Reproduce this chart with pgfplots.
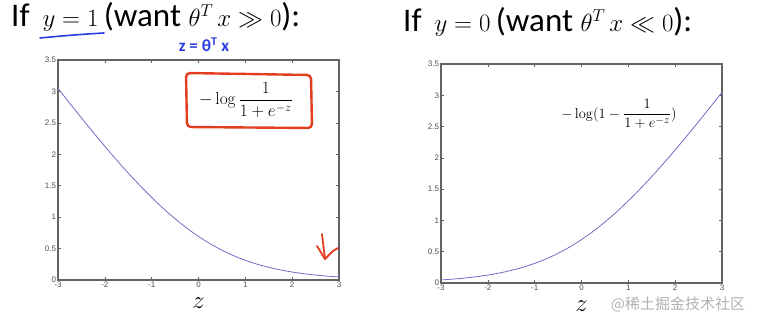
\documentclass[border=0pt]{standalone}
\usepackage{pgfplots}
\pgfplotsset{compat=1.18}
\usepackage{pgfplotstable}
\usepackage[no-math]{fontspec}
\setmainfont{Carlito}
\newfontfamily\tickfont{Liberation Sans}
\newfontfamily\cjk{Noto Sans CJK SC}
\definecolor{curve}{RGB}{110,110,200}
\definecolor{axgray}{RGB}{100,100,100}
\definecolor{tickgray}{RGB}{80,80,80}
\definecolor{hblue}{RGB}{40,60,225}
\definecolor{hred}{RGB}{228,60,30}
\pgfplotstableread{
z y
-3 3.0486
-2.75 2.8120
-2.5 2.5789
-2.25 2.3502
-2 2.1269
-1.75 1.9102
-1.5 1.7014
-1.25 1.5019
-1 1.3133
-0.75 1.1369
-0.5 0.9741
-0.25 0.8259
0 0.6931
0.25 0.5759
0.5 0.4741
0.75 0.3869
1 0.3133
1.25 0.2519
1.5 0.2014
1.75 0.1602
2 0.1269
2.25 0.1002
2.5 0.0789
2.75 0.0620
3 0.0486
}\costone
\pgfplotstableread{
z y
-3 0.0486
-2.75 0.0620
-2.5 0.0789
-2.25 0.1002
-2 0.1269
-1.75 0.1602
-1.5 0.2014
-1.25 0.2519
-1 0.3133
-0.75 0.3869
-0.5 0.4741
-0.25 0.5759
0 0.6931
0.25 0.8259
0.5 0.9741
0.75 1.1369
1 1.3133
1.25 1.5019
1.5 1.7014
1.75 1.9102
2 2.1269
2.25 2.3502
2.5 2.5789
2.75 2.8120
3 3.0486
}\costzero
\pgfplotsset{
  mystyle/.style={
    scale only axis,
    width=281pt, height=220pt,
    xmin=-3, xmax=3, ymin=0, ymax=3.5,
    xtick={-3,-2,...,3},
    ytick={0,0.5,...,3.5},
    yticklabels={0,0.5,1,1.5,2,2.5,3,3.5},
    tick align=inside,
    major tick length=3pt,
    axis line style={axgray, line width=1.1pt},
    every tick/.style={axgray, line width=0.6pt},
    tick label style={font=\tickfont\fontsize{8}{8}\selectfont, text=tickgray},
    /pgf/number format/assume math mode=true,
    xticklabel style={yshift=1.5pt},
    yticklabel style={xshift=1.5pt},
    xlabel={$z$},
    xlabel style={font=\fontsize{26}{26}\selectfont, yshift=-3pt},
  }
}
\begin{document}
\begin{tikzpicture}[x=1pt,y=1pt]
\path[use as bounding box] (0,0) rectangle (761,325);
\begin{axis}[mystyle, at={(58pt,45pt)}, anchor=south west]
\addplot[curve, line width=0.8pt, smooth] table[x=z,y=y]{\costone};
\end{axis}
\begin{axis}[mystyle, at={(441pt,42pt)}, anchor=south west, height=219pt]
\addplot[curve, line width=0.8pt, smooth] table[x=z,y=y]{\costzero};
\end{axis}
% titles
\node[anchor=base west, inner sep=0pt, font=\fontsize{33}{35}\selectfont] at (11,299) {If\, $y=1$\,(want $\theta^{\scriptscriptstyle T}\,x \gg 0$):};
\node[anchor=base west, inner sep=0pt, font=\fontsize{33}{35}\selectfont] at (403,294) {If\, $y=0$\,(want $\theta^{\scriptscriptstyle T}\,x \ll 0$):};
% formulas
\node[inner sep=0pt, font=\fontsize{17}{17}\selectfont] at (246,225) {$\displaystyle -\log\frac{1}{1+e^{-z}}$};
\node[inner sep=0pt, font=\fontsize{15.5}{15.5}\selectfont] at (619,211) {$\displaystyle -\log(1-\frac{1}{1+e^{-z}})$};
% handwriting
\draw[hblue, line width=1.6pt, line cap=round] (40,287) .. controls (60,289) and (85,291) .. (104,292);
\node[hblue, font=\bfseries\fontsize{17}{17}\selectfont, inner sep=0pt] at (204,280) {z = θ\textsuperscript{T} x};
\draw[hred, line width=2.4pt, rounded corners=4pt] (186,252) -- (311,250) -- (312,197) -- (187,198) -- cycle;
\draw[hred, line width=1.8pt, line cap=round, line join=round] (322,91) -- (325,66);
\draw[hred, line width=1.8pt, line cap=round, line join=round] (317,79) -- (325,66) -- (333,74) -- (338,77);
% watermark
\node[text=black!30, font=\cjk\fontsize{15}{15}\selectfont, inner sep=0pt] at (678,21) {@稀土掘金技术社区};
\end{tikzpicture}
\end{document}
